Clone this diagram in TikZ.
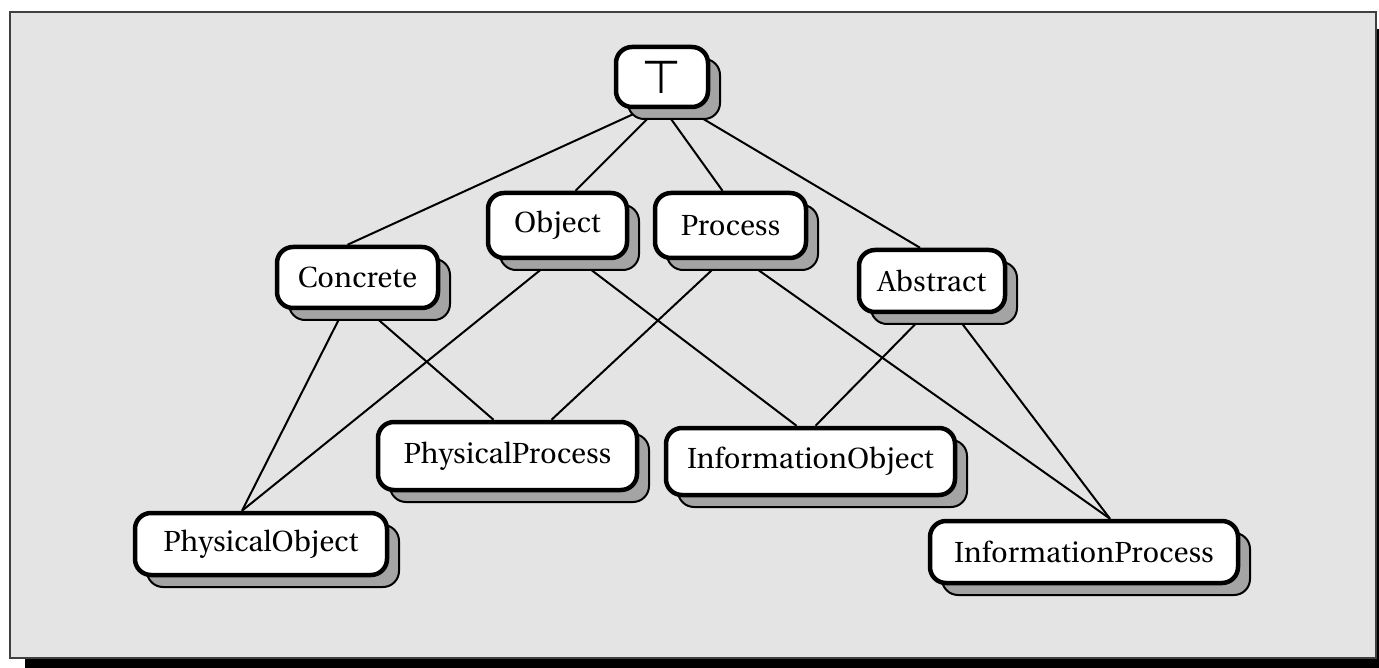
\documentclass[tikz,border=0pt]{standalone}
\usepackage[T1]{fontenc}
\usepackage{fontspec}
\newfontfamily\symfont{DejaVu Sans}
\usetikzlibrary{shadows}
\definecolor{bgc}{HTML}{E4E4E4}
\definecolor{shc}{HTML}{A4A4A4}
\newcommand\uto{\fontencoding{T1}\fontfamily{put}\fontsize{29}{33}\selectfont}
\pgfdeclarelayer{frame}
\pgfdeclarelayer{lines}
\pgfsetlayers{frame,lines,main}
\tikzset{
  box/.style={draw=black, line width=4.5pt, fill=white, rounded corners=16pt,
    inner sep=0pt, font=\uto,
    general shadow={fill=shc, draw=black, line width=2pt,
      shadow xshift=12pt, shadow yshift=-12pt}},
  link/.style={line width=2pt, draw=black},
}
\begin{document}
\begin{tikzpicture}[x=1pt, y=-1pt]
\useasboundingbox (0,0) rectangle (1379,668);
\begin{pgfonlayer}{frame}
  \fill[black] (25,29) rectangle (1390,680);
  \draw[fill=bgc, draw=black!75, line width=2pt] (10,12) rectangle (1376,658);
\end{pgfonlayer}

\node[box, minimum width=92pt, minimum height=60pt] (top) at (662,77) {\symfont\fontsize{46}{50}\selectfont ⊤};
\node[box, minimum width=161pt, minimum height=61pt] (conc) at (357.5,277.5) {Concrete};
\node[box, minimum width=139pt, minimum height=65pt] (obj) at (557.5,225.5) {Object};
\node[box, minimum width=151pt, minimum height=65pt] (proc) at (730.5,225.5) {Process};
\node[box, minimum width=146pt, minimum height=62pt] (abs) at (932,281) {Abstract};
\node[box, minimum width=259pt, minimum height=68pt] (pp) at (507.5,456) {PhysicalProcess};
\node[box, minimum width=289pt, minimum height=67pt] (io) at (810.5,461.5) {InformationObject};
\node[box, minimum width=252pt, minimum height=62pt] (po) at (261,544) {PhysicalObject};
\node[box, minimum width=308pt, minimum height=62pt] (ip) at (1084,552) {InformationProcess};

\begin{pgfonlayer}{lines}
  \draw[link] ([xshift=-18pt]top.south) -- ([xshift=-10pt]conc.north);
  \draw[link] ([xshift=-5pt]top.south) -- ([xshift=18pt]obj.north);
  \draw[link] ([xshift=2pt]top.south) -- ([xshift=-8pt]proc.north);
  \draw[link] ([xshift=25pt]top.south) -- ([xshift=-12pt]abs.north);
  \draw[link] ([xshift=-14pt]conc.south) -- ([xshift=-19pt]po.north);
  \draw[link] ([xshift=10pt]conc.south) -- ([xshift=-14pt]pp.north);
  \draw[link] ([xshift=-5pt]obj.south) -- ([xshift=-19pt]po.north);
  \draw[link] ([xshift=21pt]obj.south) -- ([xshift=-14pt]io.north);
  \draw[link] ([xshift=-8pt]proc.south) -- ([xshift=44pt]pp.north);
  \draw[link] ([xshift=14pt]proc.south) -- ([xshift=26pt]ip.north);
  \draw[link] ([xshift=-7pt]abs.south) -- ([xshift=5pt]io.north);
  \draw[link] ([xshift=23pt]abs.south) -- ([xshift=26pt]ip.north);
\end{pgfonlayer}
\end{tikzpicture}
\end{document}
